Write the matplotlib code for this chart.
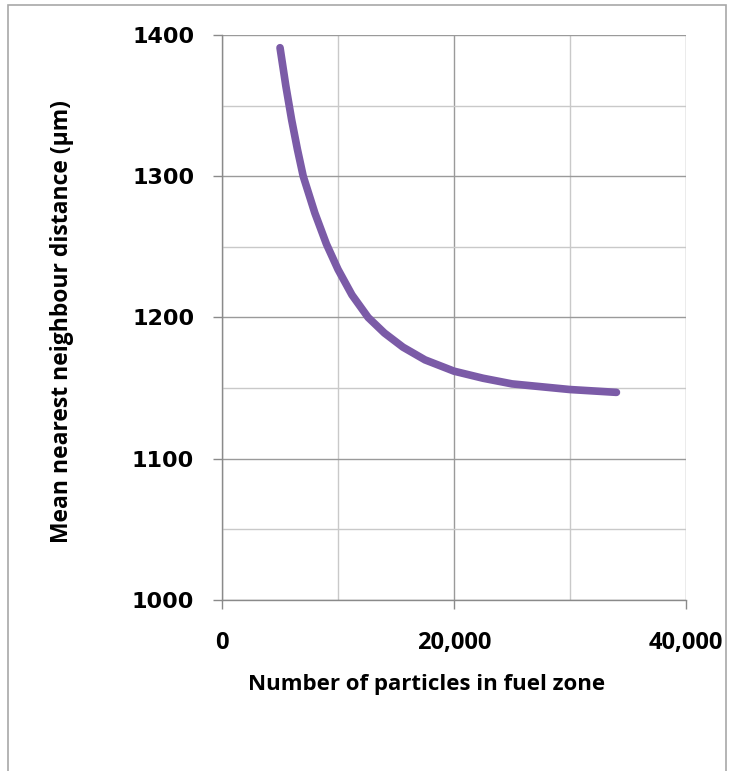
import matplotlib.pyplot as plt
from matplotlib.patches import Rectangle
from matplotlib.ticker import FuncFormatter, MultipleLocator

# values
particles = [5000, 5500, 6000, 6500, 7000, 8000, 9000, 10000, 11200, 12600,
             14000, 15600, 17500, 20000, 22500, 25000, 27500, 30000, 32000, 34000]
distance = [1391, 1364, 1340, 1319, 1300, 1274, 1252, 1234, 1216, 1200,
            1189, 1179, 1170, 1162, 1157, 1153, 1151, 1149, 1148, 1147]

x_ticks = [0, 20000, 40000]
y_ticks = [1000, 1100, 1200, 1300, 1400]

plt.rcParams['font.family'] = ['Open Sans', 'DejaVu Sans']
plt.rcParams['font.weight'] = 'bold'

fig = plt.figure(figsize=(7.33, 7.71), dpi=100)
ax = fig.add_axes([0.3029, 0.2218, 0.633, 0.7328])

ax.plot(particles, distance, color='#7B5BA7', lw=5.5, solid_capstyle='round', zorder=3)

ax.set_xlim(0, 40000)
ax.set_ylim(1000, 1400)
ax.set_xticks(x_ticks)
ax.set_yticks(y_ticks)
ax.xaxis.set_minor_locator(MultipleLocator(10000))
ax.yaxis.set_minor_locator(MultipleLocator(50))
ax.xaxis.set_major_formatter(FuncFormatter(lambda v, p: f"{int(v):,}"))

ax.grid(which='major', color='#9a9a9a', lw=1.0)
ax.grid(which='minor', color='#c9c9c9', lw=1.0)
ax.set_axisbelow(True)

for s in ['top', 'right']:
    ax.spines[s].set_visible(False)
for s in ['left', 'bottom']:
    ax.spines[s].set_color('#8a8a8a')
    ax.spines[s].set_linewidth(1.0)

ax.tick_params(which='major', direction='out', length=6.5, width=1, color='#8a8a8a')
ax.tick_params(axis='x', which='major', pad=15.5, labelsize=17)
ax.tick_params(axis='y', which='major', pad=13.5, labelsize=16, labelfontfamily='DejaVu Sans')
ax.tick_params(which='minor', length=0)

ax.set_xlabel("Number of particles in fuel zone", fontsize=16, fontweight='bold')
ax.set_ylabel("Mean nearest neighbour distance (\u00b5m)", fontsize=16.5, fontweight='bold')
ax.xaxis.set_label_coords(0.44, -0.150)
ax.yaxis.set_label_coords(-0.345, 0.492)
ax.xaxis.label.set_va('center')
ax.yaxis.label.set_va('center')

fig.patches.append(Rectangle((8 / 733, -0.01), 718 / 733, 1 - 5 / 771 + 0.01,
                             transform=fig.transFigure, fill=False,
                             edgecolor='#a8a8a8', lw=1.2))

fig.savefig("out.png", dpi=100)
